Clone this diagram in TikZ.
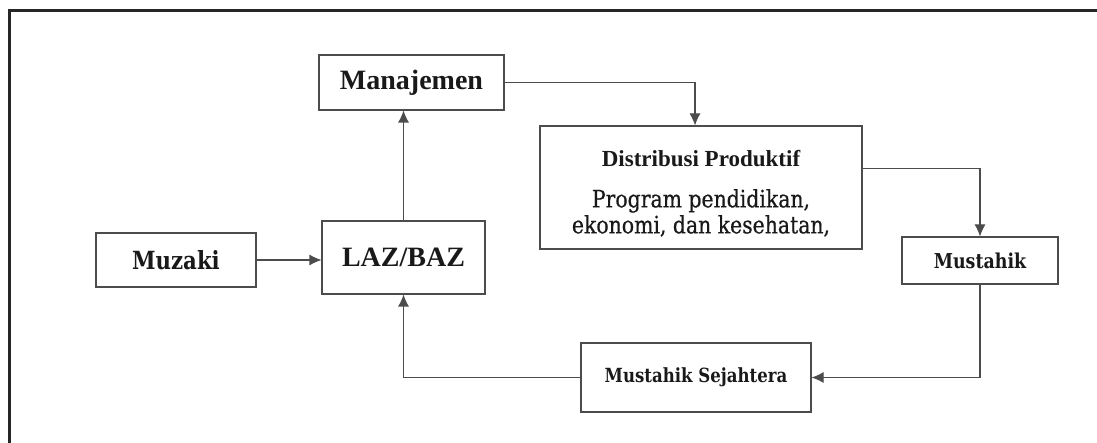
\documentclass[tikz,border=0pt]{standalone}
\usepackage{fontspec}
\setmainfont{Liberation Serif}
\newfontfamily\schola[FakeStretch=0.85]{DejaVu Serif}
\newfontfamily\scholatebal[FakeStretch=0.85,FakeBold=0.6]{DejaVu Serif}
\usetikzlibrary{arrows.meta}

\begin{document}
\begin{tikzpicture}[x=1pt, y=-1pt,
	kotak/.style={draw=black!70, line width=1.1pt, inner sep=0pt, text=black!90, align=center},
	panah/.style={-{Latex[length=12pt,width=11pt]}, draw=black!70, line width=1.1pt}]
	\useasboundingbox (0,0) rectangle (1097,443);
	% bingkai
	\draw[line width=3pt, black!85] (9,443)--(9,11)--(1097,11);

	\node[kotak, minimum width=160, minimum height=54] (muzaki) at (176,260)
		{\schola\bfseries\fontsize{25}{28}\selectfont Muzaki};
	\node[kotak, minimum width=163, minimum height=73] (laz) at (403.5,257.5)
		{\bfseries\fontsize{28}{32}\selectfont LAZ/BAZ};
	\node[kotak, minimum width=185, minimum height=55] (manajemen) at (411.5,82.5)
		{\bfseries\fontsize{28}{32}\selectfont Manajemen};
	\node[kotak, minimum width=322, minimum height=123, font=\scholatebal\fontsize{24}{26}\selectfont] (distribusi) at (701,187.5)
		{{\rmfamily\bfseries\fontsize{23}{26}\selectfont\rule{0pt}{28pt}Distribusi Produktif}\\[15pt]
		 Program pendidikan,\\
		 ekonomi, dan kesehatan,};
	\node[kotak, minimum width=156, minimum height=47] (mustahik) at (980,260.5)
		{\schola\bfseries\fontsize{20.5}{24}\selectfont Mustahik};
	\node[kotak, minimum width=230, minimum height=69] (sejahtera) at (696,377.5)
		{\schola\bfseries\fontsize{19.5}{24}\selectfont Mustahik Sejahtera};

	\draw[panah] (muzaki.east)--(muzaki.east -| laz.west);
	\draw[panah] (laz.north)--(laz.north |- manajemen.south);
	\draw[panah] (manajemen.east) -| ([xshift=-6pt]distribusi.north);
	\draw[panah] ([yshift=19pt]distribusi.east) -| (mustahik.north);
	\draw[panah] (mustahik.south) |- (sejahtera.east);
	\draw[panah] (sejahtera.west) -| (laz.south);
\end{tikzpicture}
\end{document}
